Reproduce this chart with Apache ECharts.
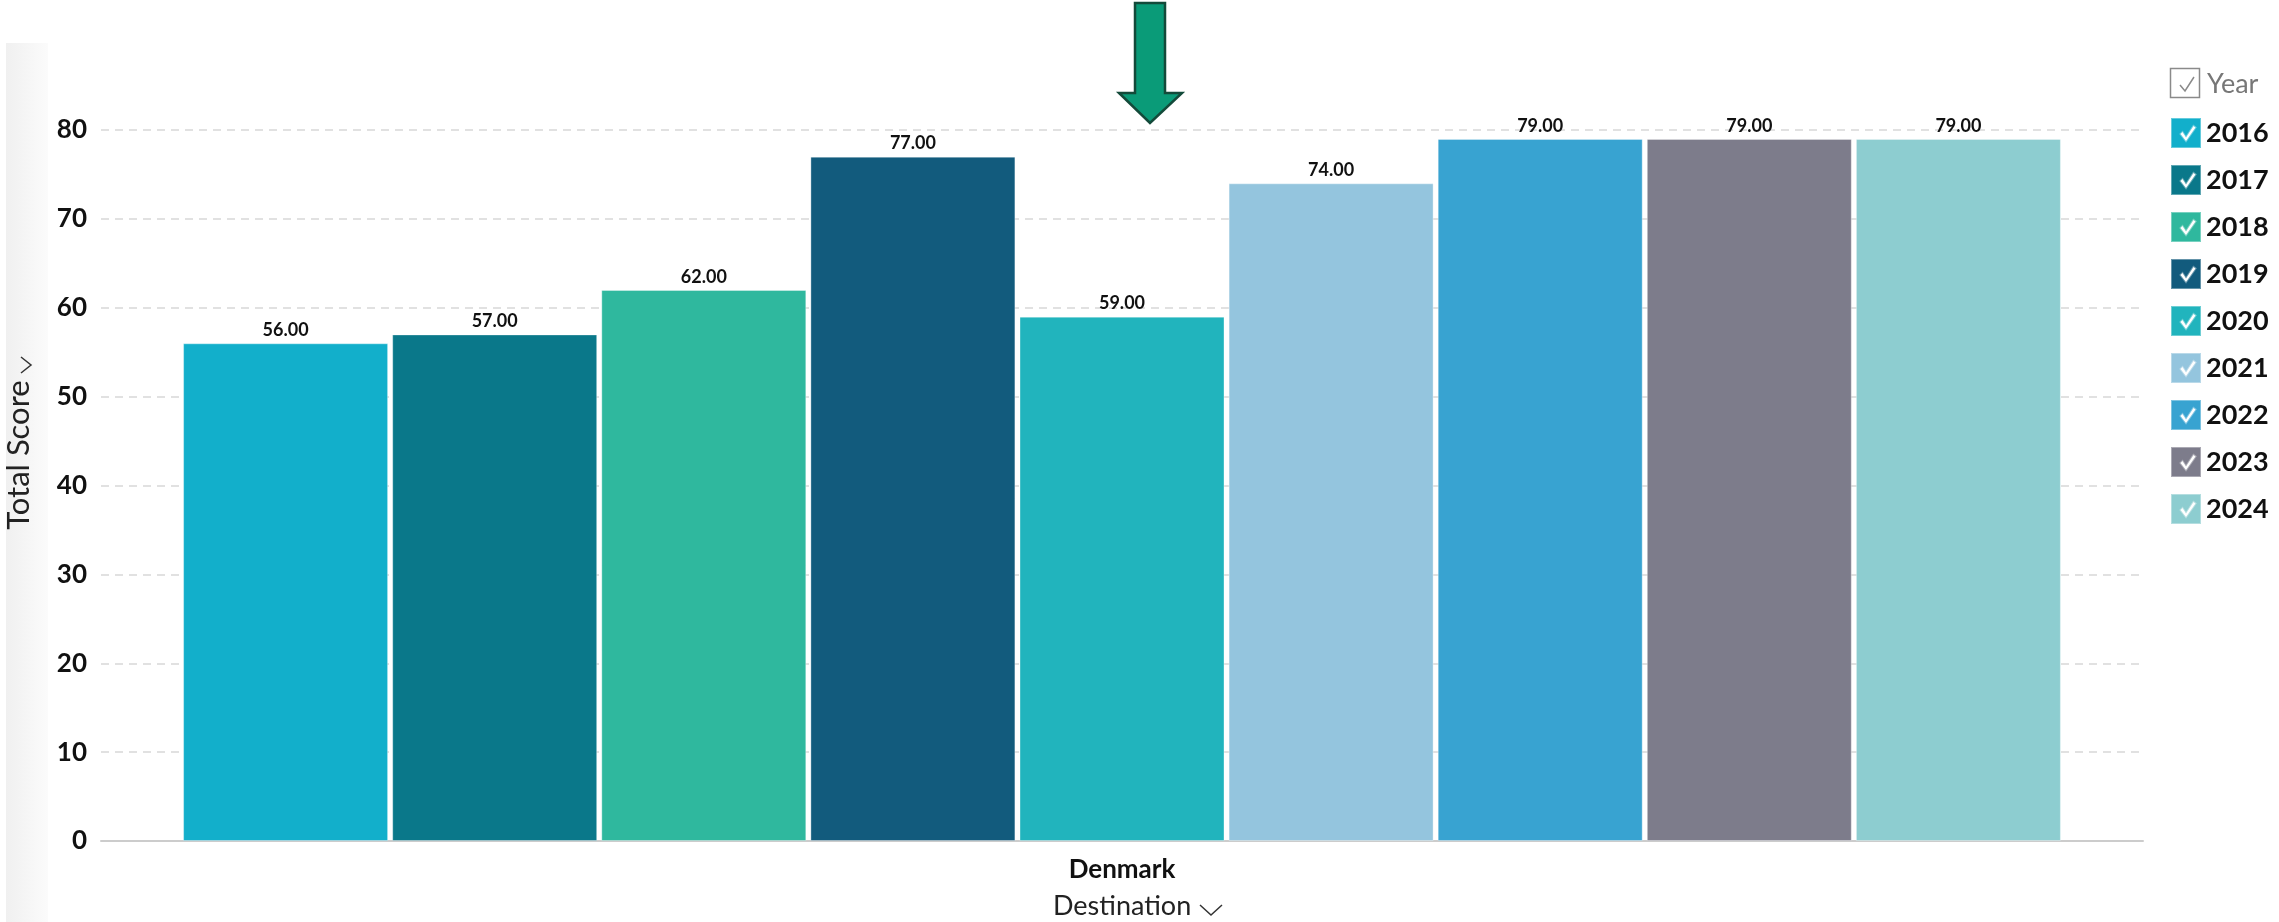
<!DOCTYPE html>
<html>
<head>
<meta charset="utf-8">
<script src="https://cdn.jsdelivr.net/npm/echarts@6/dist/echarts.min.js"></script>
<style>
html,body{margin:0;padding:0;background:#fff;}
#chart{width:2279px;height:922px;}
</style>
</head>
<body>
<div id="chart"></div>
<script>
// ---- data ----
const categories = ['Denmark'];
const years = ['2016','2017','2018','2019','2020','2021','2022','2023','2024'];
const scores = [56, 57, 62, 77, 59, 74, 79, 79, 79];
const yearColors = ['#12AFCB','#0A788A','#2FB89E','#125B7D','#21B4BD','#94C5DE','#38A3D1','#7D7C8B','#8DCDD0'];
const yTicks = [0, 10, 20, 30, 40, 50, 60, 70, 80];

const FONT = 'Lato';
// checkbox icon: square with a check-shaped hole (opposite winding)
const checkIcon = 'path://M0 0 H30 V30 H0 Z M9.5 16 L15 23 L24.5 9.5 L22.5 8 L15 19.5 L11.5 14 Z';

const chart = echarts.init(document.getElementById('chart'), null, {renderer: 'canvas'});

const series = years.map((y, i) => ({
  name: y,
  type: 'bar',
  data: [scores[i]],
  barWidth: 205,
  barGap: '2%',
  itemStyle: {color: yearColors[i], borderColor: 'rgba(255,255,255,0.35)', borderWidth: 1},
  label: {
    show: true,
    position: 'top',
    distance: 4,
    formatter: p => p.value.toFixed(2),
    fontFamily: FONT,
    fontSize: 18,
    fontWeight: 'bold',
    color: '#111'
  },
  emphasis: {disabled: true}
}));

const option = {
  animation: false,
  backgroundColor: '#ffffff',
  textStyle: {fontFamily: FONT},
  grid: {left: 101, right: 136, top: 130, bottom: 81, containLabel: false},
  legend: {
    orient: 'vertical',
    left: 2170,
    top: 117,
    padding: 0,
    itemWidth: 30,
    itemHeight: 30,
    itemGap: 15,
    icon: checkIcon,
    selectedMode: false,
    data: years,
    textStyle: {fontFamily: FONT, fontSize: 27, fontWeight: 'bold', color: '#111', lineHeight: 30}
  },
  xAxis: {
    type: 'category',
    data: categories,
    axisLine: {show: true, lineStyle: {color: '#cccccc', width: 2}},
    axisTick: {show: false},
    axisLabel: {fontFamily: FONT, fontSize: 26, fontWeight: 'bold', color: '#111', margin: 16}
  },
  yAxis: {
    type: 'value',
    min: 0,
    max: 80,
    interval: 10,
    axisLine: {show: false},
    axisTick: {show: false},
    axisLabel: {
      fontFamily: FONT, fontSize: 26, fontWeight: 'bold', color: '#111', margin: 14,
      formatter: v => (yTicks.indexOf(v) >= 0 ? String(v) : '')
    },
    splitLine: {show: true, lineStyle: {color: '#d8d8d8', width: 1.5, type: [8, 6]}}
  },
  graphic: [
    // faint left stripe
    {type: 'rect', z: -10, shape: {x: 6, y: 43, width: 42, height: 879},
      style: {fill: new echarts.graphic.LinearGradient(0, 0, 1, 0, [
        {offset: 0, color: '#f0f0f0'}, {offset: 1, color: '#fbfbfb'}])}},
    // arrow
    {type: 'polygon', z: 100,
      shape: {points: [[1135,3],[1165,3],[1165,93],[1182,93],[1150,123],[1119,93],[1135,93]]},
      style: {fill: '#0A9B78', stroke: '#134A3A', lineWidth: 2.5}},
    // legend header "Year"
    {type: 'rect', shape: {x: 2170.5, y: 68.5, width: 29, height: 29},
      style: {fill: '#fff', stroke: '#8a8a8a', lineWidth: 1.5}},
    {type: 'polyline', shape: {points: [[2180,85],[2185,91],[2194,77]]},
      style: {stroke: '#8a8a8a', lineWidth: 1.5, fill: null}},
    {type: 'text', x: 2207, y: 84,
      style: {text: 'Year', fontFamily: FONT, fontSize: 27, fill: '#777', verticalAlign: 'middle', align: 'left'}},
    // y axis name (rotated)
    {type: 'text', x: 19, y: 455, rotation: Math.PI / 2,
      style: {text: 'Total Score', fontFamily: FONT, fontSize: 31, fill: '#222', align: 'center', verticalAlign: 'middle'}},
    {type: 'polyline', shape: {points: [[21,357],[31,365],[21,373]]},
      style: {stroke: '#333', lineWidth: 1.5, fill: null}},
    // x axis name
    {type: 'text', x: 1053, y: 906,
      style: {text: 'Destination', fontFamily: FONT, fontSize: 27, fill: '#222', align: 'left', verticalAlign: 'middle'}},
    {type: 'polyline', shape: {points: [[1200,905],[1211,915],[1222,905]]},
      style: {stroke: '#333', lineWidth: 1.5, fill: null}}
  ],
  series: series
};

chart.setOption(option);
</script>
</body>
</html>
